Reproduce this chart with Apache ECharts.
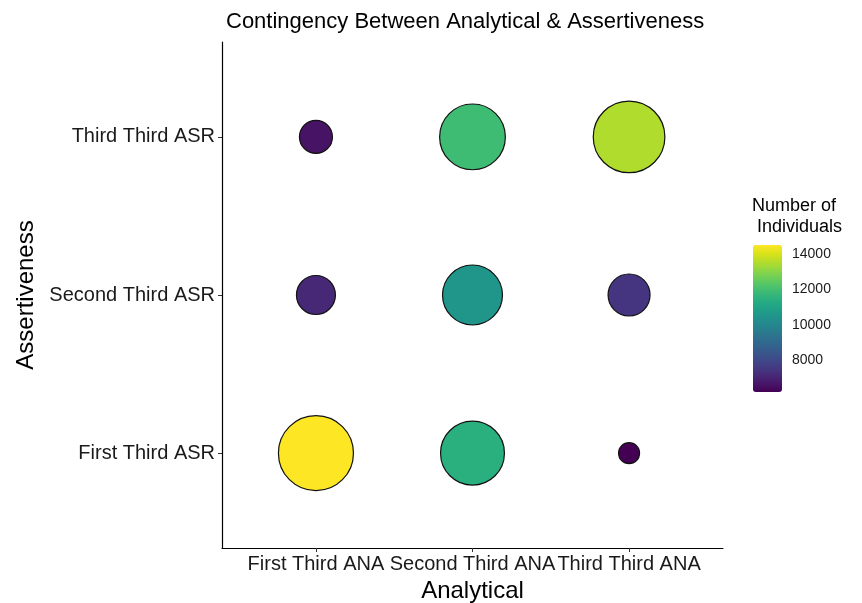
<!DOCTYPE html>
<html>
<head>
<meta charset="utf-8">
<script src="https://cdn.jsdelivr.net/npm/echarts@6/dist/echarts.min.js"></script>
<style>
  html, body { margin: 0; padding: 0; background: #fff; }
  #chart { width: 862px; height: 603px; }
</style>
</head>
<body>
<div id="chart"></div>
<script>
// categories
const anaCats = ["First Third ANA", "Second Third ANA", "Third Third ANA"]
const asrCats = ["First Third ASR", "Second Third ASR", "Third Third ASR"]
// counts, [anaIndex, asrIndex, count]
const counts = [
  [1, 1, 14500], [2, 1, 11430], [3, 1, 6200],
  [1, 2, 7120],  [2, 2, 10520], [3, 2, 7450],
  [1, 3, 6610],  [2, 3, 11900], [3, 3, 13500],
]
const legendTicks = [8000, 10000, 12000, 14000]
const viridis = ["#440154", "#48186a", "#472d7b", "#424086", "#3b528b", "#33638d",
  "#2c728e", "#26828e", "#21918c", "#1fa088", "#28ae80", "#3fbc73", "#5ec962",
  "#84d44b", "#addc30", "#d8e219", "#fde725"]

const vals = counts.map(d => d[2])
const vMin = Math.min(...vals)
const vMax = Math.max(...vals)
// ggplot-like area scaling of point size
const sizeOf = v => 21 + 54 * Math.sqrt((v - vMin) / (vMax - vMin))

const font = "Liberation Sans, Arial, sans-serif"
const chart = echarts.init(document.getElementById("chart"))
chart.setOption({
  animation: false,
  title: {
    text: "Contingency Between Analytical & Assertiveness",
    left: 221, top: 6,
    textStyle: { fontFamily: font, fontSize: 22, fontWeight: "normal", color: "#000" },
  },
  grid: [
    { left: 222, right: 139, top: 42, bottom: 55, outerBoundsMode: "none" },
    { left: 753, top: 245, width: 29, height: 147, outerBoundsMode: "none" },
  ],
  xAxis: [
    {
      type: "value", gridIndex: 0, min: 0.4, max: 3.6,
      name: "Analytical", nameLocation: "middle", nameGap: 31,
      nameTextStyle: { fontFamily: font, fontSize: 24, color: "#000" },
      splitLine: { show: false },
      axisLine: { lineStyle: { color: "#000", width: 1.2 } },
      axisTick: { customValues: [1, 2, 3], length: 4, lineStyle: { color: "#333" } },
      axisLabel: {
        customValues: [1, 2, 3], margin: 6,
        formatter: v => anaCats[Math.round(v) - 1],
        fontFamily: font, fontSize: 20, color: "#1a1a1a",
      },
    },
    { type: "value", gridIndex: 1, show: false, min: 0, max: 1 },
  ],
  yAxis: [
    {
      type: "value", gridIndex: 0, min: 0.4, max: 3.6,
      name: "Assertiveness", nameLocation: "middle", nameGap: 181,
      nameTextStyle: { fontFamily: font, fontSize: 24, color: "#000" },
      splitLine: { show: false },
      axisLine: { show: true, lineStyle: { color: "#000", width: 1.2 } },
      axisTick: { show: true, customValues: [1, 2, 3], length: 4, lineStyle: { color: "#333" } },
      axisLabel: {
        customValues: [1, 2, 3], margin: 7,
        formatter: v => asrCats[Math.round(v) - 1],
        fontFamily: font, fontSize: 20, color: "#1a1a1a",
      },
    },
    {
      type: "value", gridIndex: 1, min: vMin, max: vMax, position: "right",
      splitLine: { show: false },
      axisLine: { show: false },
      axisTick: { show: true, inside: true, length: 5, customValues: legendTicks, lineStyle: { color: "#fff" } },
      axisLabel: {
        customValues: legendTicks, margin: 10,
        formatter: v => String(v),
        fontFamily: font, fontSize: 14, color: "#1a1a1a",
      },
    },
    {
      type: "value", gridIndex: 1, min: vMin, max: vMax, position: "left",
      splitLine: { show: false },
      axisLine: { show: false },
      axisTick: { show: true, inside: true, length: 5, customValues: legendTicks, lineStyle: { color: "#fff" } },
      axisLabel: { show: false },
    },
  ],
  visualMap: {
    type: "continuous", min: vMin, max: vMax, dimension: 2, seriesIndex: 0,
    left: 753, top: 245, itemWidth: 29, itemHeight: 147, padding: 0,
    calculable: false, text: null, showLabel: false,
    inRange: { color: viridis },
    z: 1,
  },
  graphic: [{
    type: "text", left: 752, top: 196, z: 10,
    style: { text: "Number of\n Individuals", font: "18px " + font, fill: "#000", lineHeight: 21 },
  }],
  series: [{
    type: "scatter",
    xAxisIndex: 0, yAxisIndex: 0,
    data: counts,
    symbolSize: d => sizeOf(d[2]),
    itemStyle: { borderColor: "#111", borderWidth: 1.2, opacity: 1 },
  }],
})
</script>
</body>
</html>
